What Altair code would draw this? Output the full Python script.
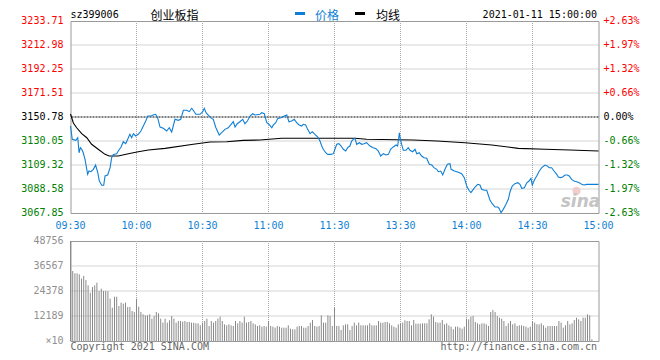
import altair as alt
import pandas as pd

# ---------------- data ----------------
prev_close = 3150.78
price_levels = [3233.71, 3212.98, 3192.25, 3171.51, 3150.78, 3130.05, 3109.32, 3088.58, 3067.85]
pct_labels = ["+2.63%", "+1.97%", "+1.32%", "+0.66%", "0.00%", "-0.66%", "-1.32%", "-1.97%", "-2.63%"]
vol_levels = [48756, 36567, 24378, 12189, 0]
vol_labels = ["48756", "36567", "24378", "12189", "×10"]
x_ticks = [0, 30, 60, 90, 120, 150, 180, 210, 240]
x_labels = ["09:30", "10:00", "10:30", "11:00", "11:30", "13:30", "14:00", "14:30", "15:00"]

price_min = [0, 0.8, 2.4, 3.3, 3.9, 4.5, 5.1, 5.8, 6.6, 7.8, 8.4, 9.3, 10.4, 11.4, 12.4, 13.1, 14.2, 15.1,
             15.7, 16.9, 18.0, 18.7, 19.5, 21.0, 21.7, 23.0, 24.0, 25.1, 26.3, 27.0, 27.8, 28.6, 29.6, 30.8,
             32.0, 33.1, 34.2, 35.1, 36.6, 37.6, 38.7, 39.6, 40.7, 42.2, 43.7, 44.9, 46.0, 46.7, 47.5, 49.0,
             50.1, 51.3, 52.8, 54.0, 55.1, 55.8, 57.0, 58.9, 60.1, 60.8, 61.6, 62.6, 63.7, 64.9, 66.1, 67.6,
             68.7, 70.2, 71.7, 72.8, 74.0, 74.8, 75.8, 77.0, 78.3, 79.3, 80.4, 81.6, 82.8, 83.9, 86.1, 86.9,
             88.1, 89.2, 90.2, 91.5, 92.2, 93.3, 94.2, 95.7, 97.2, 98.3, 99.3, 100.5, 101.7, 102.8, 103.9,
             105.1, 105.8, 106.9, 107.8, 108.9, 109.9, 111.1, 112.4, 113.4, 114.2, 114.9, 116.0, 116.9, 118.4,
             119.5, 120.2, 121.0, 122.0, 123.0, 124.0, 125.1, 126.0, 127.0, 127.8, 128.5, 129.3, 130.1, 131.3,
             132.4, 133.4, 134.6, 136.1, 137.6, 138.9, 139.9, 141.0, 142.2, 143.4, 144.5, 145.5, 146.7, 148.0,
             148.7, 149.5, 149.8, 150.5, 151.3, 152.5, 153.5, 154.3, 155.5, 156.6, 157.4, 158.5, 159.6, 160.7,
             161.9, 163.1, 164.2, 165.2, 166.5, 167.2, 168.3, 169.2, 170.2, 171.3, 172.5, 173.0, 174.5, 176.0,
             177.8, 179.0, 180.1, 181.1, 182.0, 183.1, 183.9, 185.1, 186.1, 186.9, 188.1, 189.2, 189.9, 190.7,
             191.7, 193.0, 194.2, 194.8, 195.7, 196.7, 197.8, 199.0, 199.9, 200.8, 202.0, 203.3, 204.3, 205.1,
             206.3, 207.4, 208.4, 209.3, 209.9, 210.8, 211.9, 213.1, 214.2, 215.7, 216.7, 217.6, 218.7, 219.8,
             221.0, 221.7, 222.8, 223.7, 224.8, 225.8, 226.7, 227.8, 228.9, 230.1, 231.3, 232.4, 233.4, 234.6,
             240.0]
price_val = [3143.0, 3131.5, 3130.6, 3132.9, 3119.9, 3124.3, 3122.9, 3119.9, 3114.2, 3101.3, 3104.1, 3103.5,
             3105.6, 3109.3, 3102.7, 3095.5, 3091.8, 3091.8, 3099.8, 3100.7, 3107.0, 3115.6, 3118.5, 3119.1,
             3121.4, 3124.9, 3129.4, 3127.7, 3132.9, 3135.8, 3132.9, 3136.4, 3134.4, 3135.8, 3138.7, 3143.0,
             3147.3, 3151.6, 3151.6, 3152.5, 3153.1, 3150.2, 3142.1, 3141.0, 3138.7, 3141.5, 3137.8, 3143.0,
             3148.8, 3147.9, 3148.8, 3156.6, 3156.6, 3155.4, 3158.3, 3156.6, 3153.1, 3153.1, 3155.4, 3158.3,
             3154.5, 3152.5, 3150.2, 3148.8, 3141.5, 3135.2, 3137.2, 3140.1, 3141.5, 3143.9, 3146.7, 3142.1,
             3145.0, 3146.7, 3148.8, 3145.0, 3147.3, 3151.6, 3153.6, 3152.5, 3153.1, 3154.5, 3153.6, 3145.9,
             3144.5, 3141.5, 3143.9, 3145.9, 3149.6, 3150.2, 3151.6, 3152.5, 3146.7, 3147.3, 3148.8, 3145.9,
             3143.9, 3143.0, 3144.5, 3143.9, 3140.1, 3136.4, 3138.1, 3135.8, 3133.5, 3130.0, 3125.7, 3122.9,
             3119.9, 3118.5, 3118.5, 3119.1, 3122.9, 3127.2, 3127.7, 3125.7, 3122.9, 3121.4, 3124.3, 3125.7,
             3130.0, 3131.5, 3132.4, 3127.2, 3128.6, 3127.2, 3127.7, 3128.6, 3125.7, 3124.3, 3123.4, 3121.4,
             3117.1, 3119.1, 3118.0, 3118.5, 3122.9, 3124.9, 3126.6, 3125.7, 3137.2, 3132.9, 3127.2, 3122.0,
             3122.0, 3124.3, 3122.0, 3120.8, 3122.9, 3119.1, 3119.9, 3117.1, 3115.6, 3115.1, 3109.9, 3109.3,
             3107.0, 3105.6, 3103.5, 3104.1, 3100.7, 3105.6, 3109.9, 3110.4, 3105.6, 3104.1, 3103.3, 3101.8,
             3098.4, 3091.2, 3087.5, 3085.4, 3088.3, 3090.3, 3092.6, 3092.0, 3088.3, 3087.5, 3087.5, 3083.4,
             3078.8, 3075.9, 3073.0, 3073.0, 3071.9, 3068.1, 3071.0, 3074.8, 3079.7, 3086.9, 3091.2, 3093.2,
             3094.0, 3092.6, 3089.2, 3089.7, 3094.0, 3095.5, 3097.8, 3092.0, 3096.1, 3099.8, 3104.1, 3107.0,
             3109.3, 3108.5, 3107.0, 3107.0, 3104.1, 3101.3, 3099.0, 3098.4, 3099.0, 3100.7, 3100.7, 3099.8,
             3096.9, 3095.5, 3094.9, 3094.0, 3092.6, 3092.0, 3092.6, 3092.6]

avg_min = [0, 1.3, 2.8, 5.1, 7.4, 9.6, 12.6, 15.7, 17.6, 21.7, 26.3, 30.8, 35.4, 43.0, 55.8, 63.4, 71.0,
           78.5, 86.1, 96.0, 129.3, 134.6, 155.8, 166.5, 179.3, 191.5, 203.5, 215.7, 227.0, 240.0]
avg_val = [3153.4, 3145.6, 3141.5, 3136.4, 3132.9, 3127.2, 3122.9, 3118.5, 3117.1, 3117.1, 3119.1, 3120.8,
           3122.3, 3123.7, 3127.2, 3129.2, 3129.4, 3130.6, 3130.9, 3132.4, 3132.4, 3131.5, 3130.9, 3130.0,
           3128.6, 3126.6, 3123.7, 3122.9, 3122.3, 3121.4]

volume = [48756, 34125, 32988, 32988, 32500, 30390, 31700, 29700, 27140, 23560,
          26300, 27140, 28440, 24380, 25500, 24380, 24380, 24200, 20640, 16250,
          21600, 21600, 17060, 18690, 18200, 18690, 16570, 16570, 14625, 14140,
          20640, 16740, 14140, 13000, 12510, 12510, 13000, 10890, 12190, 14140,
          13490, 10890, 8940, 10890, 8940, 10080, 12190, 10890, 8940, 9750,
          9750, 9425, 9750, 9260, 9260, 8940, 8940, 8610, 8610, 7640,
          8940, 9750, 10890, 7310, 9750, 8940, 9750, 10890, 11860, 9750,
          8125, 7640, 8125, 7640, 7310, 9750, 8610, 9750, 8940, 11860,
          8940, 9260, 9750, 8610, 8125, 7310, 7640, 6990, 7310, 6990,
          9750, 7310, 6990, 6500, 7310, 6990, 6500, 6500, 6500, 7640,
          6010, 5690, 5690, 6990, 7310, 7310, 6500, 6500, 7310, 8940,
          10240, 7310, 6990, 7310, 12510, 8940, 8940, 12510, 12190, 7310,
          16250,
          7310, 7310, 5360, 7640, 8125, 8125, 5360, 7310, 8940, 7640,
          8940, 7640, 7640, 7640, 7640, 8610, 7640, 7640, 7640, 9750,
          8940, 8940, 9260, 9260, 8610, 7640, 6990, 6500, 8125, 8610,
          8940, 10080, 9750, 9750, 7640, 10240, 8450, 8450, 8450, 8610,
          8610, 8610, 10560, 13000, 11860, 9260, 8940, 8940, 10240, 8125,
          8610, 7640, 6990, 5690, 6990, 6990, 6500, 6010, 6990, 10890,
          10560, 11860, 12190, 9260, 8610, 8125, 8610, 8610, 8125, 7310,
          14140, 15110, 14140, 12190, 11380, 10890, 9750, 7310, 8610, 9750,
          8125, 8610, 7310, 7640, 7640, 7310, 6990, 6500, 6990, 9750,
          8940, 8125, 8125, 8610, 7640, 6500, 7310, 7310, 7310, 7310,
          7310, 9750, 8940, 6500, 7640, 9750, 8125, 8610, 10240, 11380,
          10560, 9750, 11380, 11380, 13000, 12510, 810]

# ---------------- styling ----------------
BLUE = "#0f7fd5"
MONO = "DejaVu Sans Mono"
CJK = "DejaVu Sans, Noto Sans CJK SC"
GRID = "#aaaaaa"
W, H1, H2 = 528, 192, 100

xs = alt.Scale(domain=[0, 240], nice=False, zero=False)
ys = alt.Scale(domain=[price_levels[-1], price_levels[0]], nice=False, zero=False)
vs = alt.Scale(domain=[0, vol_levels[0]], nice=False, zero=False)


def lvl_color(v):
    if v > prev_close + 0.005:
        return "#ff0000"
    if v < prev_close - 0.005:
        return "#008000"
    return "#000000"


price_df = pd.DataFrame({"m": price_min, "p": price_val})
avg_df = pd.DataFrame({"m": avg_min, "p": avg_val})
vol_df = pd.DataFrame({"m": list(range(len(volume))), "v": volume})
lvl_df = pd.DataFrame({"p": price_levels, "pct": pct_labels,
                       "c": [lvl_color(v) for v in price_levels]})
hgrid_df = pd.DataFrame({"p": [v for v in price_levels[1:-1] if abs(v - prev_close) > 0.005]})
vgrid_df = pd.DataFrame({"m": x_ticks[1:-1]})
tick_df = pd.DataFrame({"m": x_ticks, "lab": x_labels})
vlvl_df = pd.DataFrame({"v": vol_levels, "lab": vol_labels})
vhgrid_df = pd.DataFrame({"v": vol_levels[1:-1]})


def X(f):
    return alt.X(f, scale=xs, axis=None)


def label(text, x, y, color="black", font=MONO, size=10, align="left", baseline="top", **kw):
    return alt.Chart(pd.DataFrame({"t": [text]})).mark_text(
        align=align, baseline=baseline, font=font, fontSize=size, color=color, **kw
    ).encode(x=alt.value(x), y=alt.value(y), text="t:N")


def dash(color, x1, x2, y):
    return alt.Chart(pd.DataFrame({"a": [0]})).mark_rule(color=color, strokeWidth=3).encode(
        x=alt.value(x1), x2=alt.value(x2), y=alt.value(y))


# ---------------- price panel ----------------
vgrid = alt.Chart(vgrid_df).mark_rule(color=GRID, strokeDash=[1, 1]).encode(x=X("m:Q"))
hgrid = alt.Chart(hgrid_df).mark_rule(color=GRID, strokeDash=[1, 1]).encode(
    y=alt.Y("p:Q", scale=ys, axis=None))
prev_rule = alt.Chart(pd.DataFrame({"p": [prev_close]})).mark_rule(
    color="black", strokeDash=[2, 1]).encode(y=alt.Y("p:Q", scale=ys, axis=None))

wm_eye = alt.Chart(pd.DataFrame({"a": [0]})).mark_point(
    filled=True, size=70, color="#efc3c3", opacity=0.8).encode(x=alt.value(506), y=alt.value(170))
wm_text = label("sina", 510, 186, color="#c4c4c4", font="DejaVu Sans", size=17,
                align="center", baseline="alphabetic", fontStyle="italic", fontWeight="bold")

avg_line = alt.Chart(avg_df).mark_line(color="black", strokeWidth=1.1).encode(
    x=X("m:Q"), y=alt.Y("p:Q", scale=ys, axis=None))
price_line = alt.Chart(price_df).mark_line(color=BLUE, strokeWidth=1.1).encode(
    x=X("m:Q"), y=alt.Y("p:Q", scale=ys, axis=None))

left_lab = alt.Chart(lvl_df).mark_text(
    align="right", baseline="middle", dx=-7, font=MONO, fontSize=10).encode(
    x=alt.value(0), y=alt.Y("p:Q", scale=ys, axis=None), text=alt.Text("p:Q", format=".2f"),
    color=alt.Color("c:N", scale=None))
right_lab = alt.Chart(lvl_df).mark_text(
    align="left", baseline="middle", dx=5, font=MONO, fontSize=10).encode(
    x=alt.value(W), y=alt.Y("p:Q", scale=ys, axis=None), text="pct:N",
    color=alt.Color("c:N", scale=None))
x_lab = alt.Chart(tick_df).mark_text(
    align="center", baseline="top", dy=8, font=MONO, fontSize=10, color=BLUE).encode(
    x=X("m:Q"), y=alt.value(H1), text="lab:N")

header = [
    label("sz399006", 0, -11),
    label("创业板指", 80, -0.7, font=CJK, size=12, baseline="alphabetic"),
    dash(BLUE, 224.5, 234.5, -7.5),
    label("价格", 244.5, -0.7, color=BLUE, font=CJK, size=12, baseline="alphabetic"),
    dash("black", 284.5, 294.5, -7.5),
    label("均线", 305.5, -0.7, font=CJK, size=12, baseline="alphabetic"),
    label("2021-01-11 15:00:00", 526.5, -11, align="right"),
]

price_panel = alt.layer(
    vgrid, hgrid, prev_rule, wm_eye, wm_text, avg_line, price_line,
    left_lab, right_lab, x_lab, *header
).properties(width=W, height=H1)

# ---------------- volume panel ----------------
v_vgrid = alt.Chart(vgrid_df).mark_rule(color=GRID, strokeDash=[1, 1]).encode(x=X("m:Q"))
v_hgrid = alt.Chart(vhgrid_df).mark_rule(color=GRID, strokeDash=[1, 1]).encode(
    y=alt.Y("v:Q", scale=vs, axis=None))
bars = alt.Chart(vol_df).mark_rule(color="#8a8a8a", strokeWidth=1).encode(
    x=X("m:Q"), y=alt.Y("v:Q", scale=vs, axis=None), y2=alt.datum(0))
v_lab = alt.Chart(vlvl_df).mark_text(
    align="right", baseline="middle", dx=-7, font=MONO, fontSize=10, color="#909090").encode(
    x=alt.value(0), y=alt.Y("v:Q", scale=vs, axis=None), text="lab:N")
copy_l = label("Copyright 2021 SINA.COM", 0, 108.5, color="#666666", baseline="alphabetic")
copy_r = label("http://finance.sina.com.cn", 526.5, 108.5, color="#666666",
               align="right", baseline="alphabetic")

vol_panel = alt.layer(v_vgrid, v_hgrid, bars, v_lab, copy_l, copy_r).properties(width=W, height=H2)

chart = alt.vconcat(price_panel, vol_panel, spacing=28, bounds="flush").properties(
    padding={"left": 12.5, "top": 1, "right": 5, "bottom": 0},
    background="white",
).configure_view(stroke="#999999", strokeWidth=1)

chart.save("out.html", embed_options={"renderer": "svg", "actions": False})
